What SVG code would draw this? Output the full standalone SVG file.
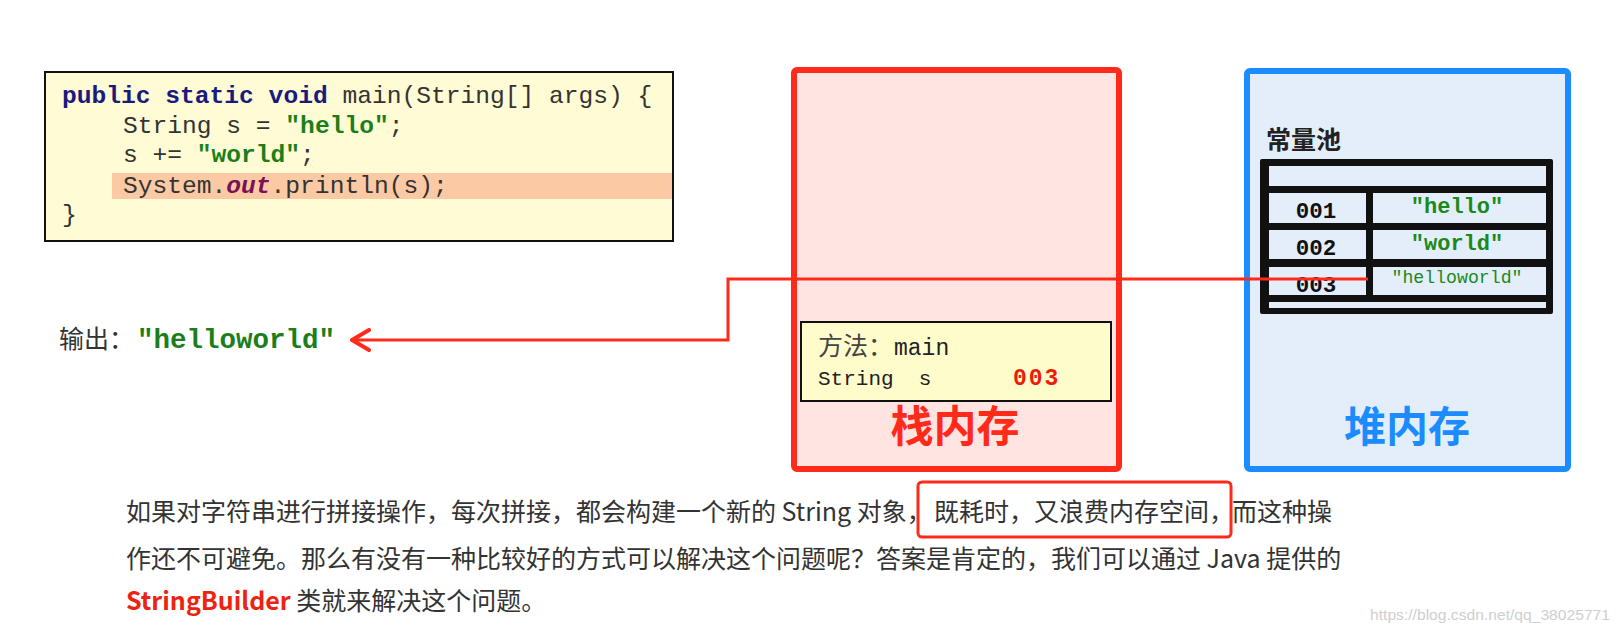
<svg xmlns="http://www.w3.org/2000/svg" width="1619" height="633" viewBox="0 0 1619 633">
<style>
.mono{font-family:"Liberation Mono","DejaVu Sans Mono",monospace}
.cjk{font-family:"Noto Sans CJK SC",sans-serif}
.code{font-size:24.6px;fill:#333}
.kw{font-weight:bold;fill:#1a1a7e}
.str{font-weight:bold;fill:#1a7f1a}
.out{font-weight:bold;font-style:italic;fill:#7a1055}
.para{font-size:25px;fill:#333}
.cell{fill:#e4eefb}
.num{font-size:22.5px;font-weight:bold;fill:#111}
.val{font-weight:bold;fill:#1a8a1a}
</style>
<defs>
<marker id="arr" viewBox="0 0 24 24" refX="20" refY="12" markerWidth="24" markerHeight="24" markerUnits="userSpaceOnUse" orient="auto">
<path d="M3,2 L20,12 L3,22" fill="none" stroke="#ff2a1a" stroke-width="4" stroke-linecap="round" stroke-linejoin="round"/>
</marker>
</defs>
<rect width="1619" height="633" fill="#ffffff"/>

<g id="code">
<rect x="45" y="72" width="628" height="169" fill="#fffbd4" stroke="#111" stroke-width="2"/>
<rect x="112" y="173" width="560" height="26" fill="#fbc9a4"/>
<text class="mono code" x="62" y="103"><tspan class="kw">public static void</tspan> main(String[] args) {</text>
<text class="mono code" x="123" y="133">String s = <tspan class="str">"hello"</tspan>;</text>
<text class="mono code" x="123" y="162">s += <tspan class="str">"world"</tspan>;</text>
<text class="mono code" x="123" y="193">System.<tspan class="out">out</tspan>.println(s);</text>
<text class="mono code" x="62" y="222">}</text>
</g>

<g id="output">
<text class="cjk" x="59" y="348" font-size="25" fill="#333">输出：</text>
<text class="mono" x="137" y="348" font-size="27.5" font-weight="bold" fill="#1a7f1a">"helloworld"</text>
</g>

<g id="stack">
<rect x="794" y="70" width="325" height="399" rx="3" fill="#ffe4e2" stroke="#ff2a1a" stroke-width="6"/>
<rect x="801" y="322" width="310" height="79" fill="#fffccc" stroke="#111" stroke-width="2"/>
<text class="cjk" x="818" y="355" font-size="25" fill="#444">方法：</text>
<text class="mono" x="894" y="355" font-size="23" fill="#222">main</text>
<text class="mono" x="818" y="385" font-size="21" fill="#222" xml:space="preserve">String  s</text>
<text class="mono" x="1013" y="385" font-size="23" font-weight="bold" letter-spacing="2" fill="#ee1a0a">003</text>
<text class="cjk" x="955" y="442" font-size="43" font-weight="bold" fill="#ff2a1a" text-anchor="middle">栈内存</text>
</g>

<g id="heap">
<rect x="1247" y="71" width="321" height="398" rx="3" fill="#e4eefb" stroke="#1a8cff" stroke-width="6"/>
<text class="cjk" x="1266" y="149" font-size="25" font-weight="bold" fill="#222">常量池</text>
<text class="cjk" x="1407" y="442" font-size="42" font-weight="bold" fill="#1a8cff" text-anchor="middle">堆内存</text>
</g>

<g id="pool">
<rect x="1260" y="159" width="293" height="155" rx="2" fill="#111"/>
<rect class="cell" x="1269" y="166" width="277" height="20"/>
<rect class="cell" x="1269" y="193" width="97" height="30"/>
<rect class="cell" x="1373" y="193" width="173" height="30"/>
<rect class="cell" x="1269" y="230" width="97" height="29"/>
<rect class="cell" x="1373" y="230" width="173" height="29"/>
<rect class="cell" x="1269" y="267" width="97" height="28"/>
<rect class="cell" x="1373" y="267" width="173" height="28"/>
<rect class="cell" x="1269" y="302" width="277" height="6"/>
<text class="mono num" x="1316" y="218" text-anchor="middle">001</text>
<text class="mono num" x="1316" y="255" text-anchor="middle">002</text>
<text class="mono num" x="1316" y="292" text-anchor="middle">003</text>
<text class="mono val" x="1457" y="213" font-size="22" text-anchor="middle">"hello"</text>
<text class="mono val" x="1457" y="250" font-size="22" text-anchor="middle">"world"</text>
<text class="mono" x="1457" y="283" font-size="18.2" fill="#1a8a1a" text-anchor="middle">"helloworld"</text>
</g>

<g id="connectors">
<path d="M1368,279 H728 V340 H352" fill="none" stroke="#ff2a1a" stroke-width="3" marker-end="url(#arr)"/>
</g>

<g id="paragraph">
<text class="cjk para" x="126" y="521">如果对字符串进行拼接操作，每次拼接，都会构建一个新的 String 对象，</text>
<text class="cjk para" x="934" y="521">既耗时，又浪费内存空间，</text>
<text class="cjk para" x="1332" y="521" text-anchor="end">而这种操</text>
<text class="cjk para" x="126" y="568">作还不可避免。那么有没有一种比较好的方式可以解决这个问题呢？答案是肯定的，我们可以通过 Java 提供的</text>
<text class="cjk para" x="126" y="610"><tspan font-weight="bold" fill="#ee2211">StringBuilder</tspan> 类就来解决这个问题。</text>
<rect x="918" y="482" width="313" height="55" rx="4" fill="none" stroke="#ff2a1a" stroke-width="3"/>
</g>

<text x="1370" y="620" font-family="Liberation Sans, sans-serif" font-size="15" fill="#cfcfcf" textLength="240" lengthAdjust="spacingAndGlyphs">https://blog.csdn.net/qq_38025771</text>
</svg>
